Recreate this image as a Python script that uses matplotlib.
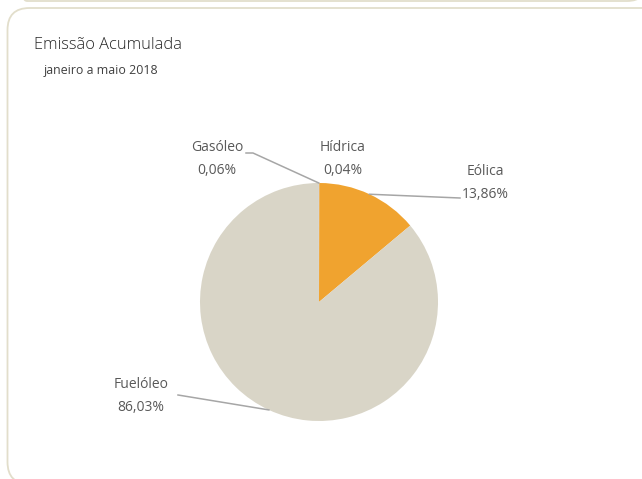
import numpy as np
import matplotlib.pyplot as plt
from matplotlib.patches import FancyBboxPatch

# data
labels = ["Hídrica", "Eólica", "Fuelóleo", "Gasóleo"]
shares = [0.04, 13.86, 86.03, 0.06]
colors = ["#A5A5A5", "#F0A32F", "#D9D5C7", "#BFBFBF"]
title = "Emissão Acumulada"
subtitle = "janeiro a maio 2018"

plt.rcParams['font.family'] = ['Open Sans', 'DejaVu Sans']

W, H = 642, 479
fig = plt.figure(figsize=(6.42, 4.79), dpi=100)
ax = fig.add_axes([0, 0, 1, 1])
ax.set_xlim(0, W)
ax.set_ylim(0, H)
ax.set_aspect('equal')
ax.axis('off')

frame_col = "#E2DECB"
# bottom of the box above
ax.add_patch(FancyBboxPatch((7, H - 1), 640, 300, boxstyle="round,pad=0,rounding_size=20",
                            fc="none", ec=frame_col, lw=1.3, clip_on=True))
# main box
ax.add_patch(FancyBboxPatch((7.5, H - 484), 660, 476, boxstyle="round,pad=0,rounding_size=22",
                            fc="none", ec=frame_col, lw=1.3, clip_on=True))

txt_col = "#595959"
ax.text(34, H - 45, title, fontsize=11.8, color="#262626", va='center', ha='left',
        fontweight='light')
ax.text(44, H - 70, subtitle, fontsize=8.9, color="#404040", va='center', ha='left')

cx, cy, R = 319, H - 302, 119
wedges, _ = ax.pie(shares, colors=colors, startangle=90, counterclock=False,
                   center=(cx, cy), radius=R, frame=True,
                   wedgeprops=dict(linewidth=0))
ax.set_xlim(0, W)
ax.set_ylim(0, H)
ax.axis('off')

line_col = "#A6A6A6"
# label positions (image px) and leader elbows
lab_pos = {
    "Hídrica": (343, 159, None),
    "Eólica": (485, 183, (460, 198)),
    "Fuelóleo": (141, 396, (178, 395)),
    "Gasóleo": (217, 159, (253, 153)),
}
for w, lab, val in zip(wedges, labels, shares):
    tx, ty, elbow = lab_pos[lab]
    ax.text(tx, H - ty, f"{lab}\n{val:.2f}%".replace('.', ','), fontsize=10,
            color=txt_col, ha='center', va='center', linespacing=1.65)
    if elbow is None:
        continue
    ang = np.deg2rad((w.theta1 + w.theta2) / 2)
    px, py = cx + R * np.cos(ang), cy + R * np.sin(ang)
    ex, ey = elbow
    xs = [px, ex]
    ys = [py, H - ey]
    if lab == "Gasóleo":
        xs.append(246)
        ys.append(H - ey)
    ax.plot(xs, ys, color=line_col, lw=1.1)

fig.savefig("out.png", dpi=100)
